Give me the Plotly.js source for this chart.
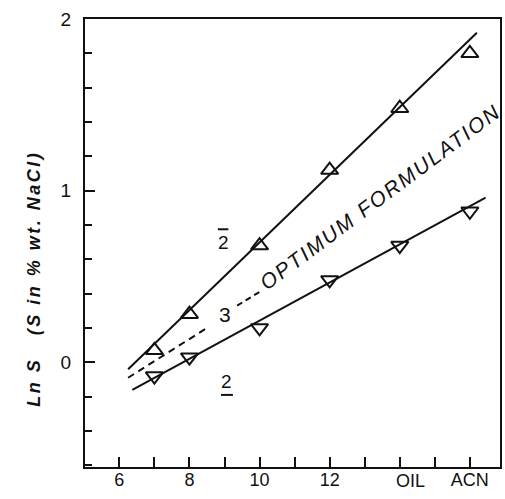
<!DOCTYPE html>
<html><head><meta charset="utf-8">
<script src="https://cdn.plot.ly/plotly-3.0.1.min.js"></script>
<style>
html,body{margin:0;padding:0;background:#fff}
.annotation[data-index="1"] text{letter-spacing:2.5px}
.annotation[data-index="2"] text{letter-spacing:2px}
</style>
</head><body><div id="chart" style="width:505px;height:499px"></div>
<script>
// Data
const acn = [7, 8, 10, 12, 14, 16];
const lnS_upper = [0.07, 0.28, 0.68, 1.12, 1.48, 1.80];
const lnS_lower = [-0.08, 0.03, 0.20, 0.48, 0.68, 0.88];
// fitted lines (end points)
const fitUpperX = [6.25, 16.2];
const fitUpperY = [-0.04, 1.92];
const fitLowerX = [6.37, 16.45];
const fitLowerY = [-0.16, 0.96];
// optimum formulation dashed line
const optX = [6.25, 8.5];
const optY = [-0.09, 0.20];
const optDashX = [9.36, 10.0];
const optDashY = [0.33, 0.41];
// tick labels
const xTickVals = [6, 7, 8, 9, 10, 11, 12, 13, 14, 15, 16];
const xTickText = ['6', '', '8', '', '10', '', '12', '', '', '', 'ACN'];
const yTickVals = [0, 1, 2];
const yTickText = ['0', '1', '2'];

const ink = '#111';
const FONT = 'Liberation Sans, Arial, sans-serif';

const traces = [
  {x: fitUpperX, y: fitUpperY, mode: 'lines', line: {color: ink, width: 2}, hoverinfo: 'skip'},
  {x: fitLowerX, y: fitLowerY, mode: 'lines', line: {color: ink, width: 2}, hoverinfo: 'skip'},
  {x: optX, y: optY, mode: 'lines', line: {color: ink, width: 2, dash: '7px,5px'}, hoverinfo: 'skip'},
  {x: optDashX, y: optDashY, mode: 'lines', line: {color: ink, width: 2, dash: '6px,4px'}, hoverinfo: 'skip'},
  {x: acn, y: lnS_upper, mode: 'markers', marker: {symbol: 'triangle-up-open', size: 15, color: ink, line: {width: 2, color: ink}}},
  {x: acn, y: lnS_lower, mode: 'markers', marker: {symbol: 'triangle-down-open', size: 15, color: ink, line: {width: 2, color: ink}}}
];

const layout = {
  width: 505, height: 499,
  margin: {l: 85, r: 5, t: 19, b: 32, pad: 0},
  paper_bgcolor: '#fff', plot_bgcolor: '#fff',
  showlegend: false,
  font: {family: FONT, color: ink, size: 16},
  xaxis: {
    range: [5.02, 16.86], showgrid: false, zeroline: false,
    showline: true, linecolor: ink, linewidth: 2, mirror: true,
    tickmode: 'array', tickvals: xTickVals, ticktext: xTickText,
    ticks: 'inside', ticklen: 10, tickwidth: 2, tickcolor: ink,
    ticklabelstandoff: -5,
    tickfont: {family: FONT, size: 18, color: ink}
  },
  yaxis: {
    range: [-0.61, 2.0], showgrid: false, zeroline: false,
    showline: true, linecolor: ink, linewidth: 2, mirror: true,
    tickmode: 'array', tickvals: yTickVals, ticktext: yTickText,
    ticks: 'inside', ticklen: 10, tickwidth: 2, tickcolor: ink,
    ticklabelstandoff: 8,
    tickfont: {family: FONT, size: 19, color: ink},
    minor: {tickmode: 'linear', tick0: 0, dtick: 0.2, ticks: 'inside', ticklen: 7, tickwidth: 2, tickcolor: ink}
  },
  annotations: [
    {x: 14.3, y: 0, xref: 'x', yref: 'paper', yshift: -2, text: 'OIL', showarrow: false,
     font: {family: FONT, size: 18, color: ink}, xanchor: 'center', yanchor: 'top'},
    {x: -0.152, y: 0.42, xref: 'paper', yref: 'paper', textangle: -90, showarrow: false,
     text: '<b><i>Ln S&nbsp;&nbsp;&nbsp;(S in % wt. NaCl)</i></b>', font: {family: FONT, size: 18, color: ink}},
    {x: 13.46, y: 0.965, xref: 'x', yref: 'y', textangle: -36.8, showarrow: false,
     text: '<i>OPTIMUM FORMULATION</i>', font: {family: FONT, size: 21, color: ink}},
    {x: 9.01, y: 0.28, xref: 'x', yref: 'y', showarrow: false, text: '3',
     font: {family: FONT, size: 21, color: ink}},
    {x: 8.96, y: 0.70, xref: 'x', yref: 'y', showarrow: false, text: '2',
     font: {family: FONT, size: 19, color: ink}},
    {x: 9.07, y: -0.11, xref: 'x', yref: 'y', showarrow: false, text: '2',
     font: {family: FONT, size: 19, color: ink}}
  ],
  shapes: [
    {type: 'line', xref: 'x', yref: 'y', x0: 8.81, x1: 9.11, y0: 0.775, y1: 0.775, line: {color: ink, width: 2}},
    {type: 'line', xref: 'x', yref: 'y', x0: 8.90, x1: 9.24, y0: -0.19, y1: -0.19, line: {color: ink, width: 2}}
  ]
};

Plotly.newPlot('chart', traces, layout, {staticPlot: true, displayModeBar: false});
</script>
</body></html>
